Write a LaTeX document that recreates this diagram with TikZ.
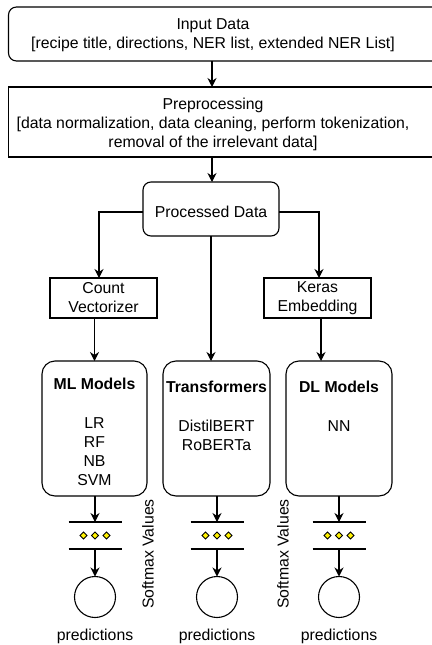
\documentclass[tikz,border=0pt]{standalone}
\usepackage{fontspec}
\setmainfont{Liberation Sans}
\usetikzlibrary{arrows.meta,shapes.geometric}
\begin{document}
\begin{tikzpicture}[x=1pt,y=-1pt,
  every node/.style={font=\fontsize{15.8}{19}\selectfont, inner sep=0pt, outer sep=0pt},
  line/.style={line width=1.1pt, draw=black},
  arr/.style={line width=1.1pt, -{Stealth[length=9pt,width=9pt]}},
  rbox/.style={draw, line width=1.1pt, rounded corners=8pt},
  sbox/.style={draw, line width=1.1pt},
  mbox/.style={draw, line width=1.1pt, rounded corners=13pt, minimum height=135pt},
  lbl/.style={align=center},
  dia/.style={diamond, draw, fill=yellow, line width=0.8pt, minimum size=7pt},
  outc/.style={circle, draw, line width=1.1pt, minimum size=41pt},
  smlayer/.style={minimum width=53pt, minimum height=27pt},
]
\useasboundingbox (0,0) rectangle (431,645);

% Input
\node[rbox, minimum width=432pt, minimum height=54pt] (inbox) at (224.5,34) {};
\node[lbl] (intext) at (213,35) {Input Data\\{[}recipe title, directions, NER list, extended NER List{]}};

% Preprocessing
\node[sbox, minimum width=432pt, minimum height=70pt] (prepbox) at (224.5,122) {};
\node[lbl] (preptext) at (213,124) {Preprocessing\\{[}data normalization, data cleaning, perform tokenization,\\removal of the irrelevant data{]}};

\draw[arr] (212,0 |- inbox.south) -- (212,0 |- prepbox.north);

% Processed data
\node[rbox, minimum width=136pt, minimum height=54pt] (proc) at (211,209) {};
\node (proctext) at (211,212) {Processed Data};
\draw[arr] (212,0 |- prepbox.south) -- (212,0 |- proc.north);

% Vectorizers
\node[sbox, minimum width=107pt, minimum height=40pt, lbl] (cv) at (103.5,298) {Count\\Vectorizer};
\node[sbox, minimum width=107pt, minimum height=40pt, lbl] (keras) at (317.5,298) {Keras\\Embedding};

\draw[arr] (proc.west |- proctext) -| ([xshift=-4.5pt]cv.north);
\draw[arr] (proc.east |- proctext) -| ([xshift=1.5pt]keras.north);

% Model boxes
\node[mbox, minimum width=105pt] (ml) at (94.5,428.5) {};
\node[mbox, minimum width=107pt] (tr) at (216.5,428.5) {};
\node[mbox, minimum width=106pt] (dl) at (339,428.5) {};

\node[font=\fontsize{15.8}{19}\selectfont\bfseries] (mlt) at (94.5,384) {ML Models};
\node[lbl] (mll) at (94.5,452) {LR\\RF\\NB\\SVM};
\node[font=\fontsize{15.8}{19}\selectfont\bfseries] (trt) at (216.5,387) {Transformers};
\node[lbl] (trl) at (216.5,435) {DistilBERT\\RoBERTa};
\node[font=\fontsize{15.8}{19}\selectfont\bfseries] (dlt) at (339,387) {DL Models};
\node[lbl] (dll) at (339,426) {NN};

\draw[arr] (cv.south -| ml.north) -- (ml.north);
\draw[arr] (proc.south) -- (proc.south |- tr.north);
\draw[arr] ([xshift=3.5pt]keras.south) -- ([xshift=3.5pt]keras.south |- dl.north);

% Softmax layers
\foreach \n/\x in {s1/95, s2/217, s3/339}{
  \node[smlayer] (\n) at (\x,535.5) {};
  \draw[line] (\n.north west) -- (\n.north east);
  \draw[line] (\n.south west) -- (\n.south east);
  \node[dia] (\n a) at ([xshift=-11.5pt]\n.center) {};
  \node[dia] (\n b) at (\n.center) {};
  \node[dia] (\n c) at ([xshift=11.5pt]\n.center) {};
  \node[outc] (\n o) at (\x,597) {};
  \node (\n p) at (\x,636) {predictions};
  \draw[arr] (\n.south) -- (\n o.north);
}
\draw[arr] (ml.south -| s1.north) -- (s1.north);
\draw[arr] (tr.south -| s2.north) -- (s2.north);
\draw[arr] (dl.south -| s3.north) -- (s3.north);

\node[rotate=90] (sv1) at (148,554) {Softmax Values};
\node[rotate=90] (sv2) at (283,554) {Softmax Values};
\end{tikzpicture}
\end{document}
